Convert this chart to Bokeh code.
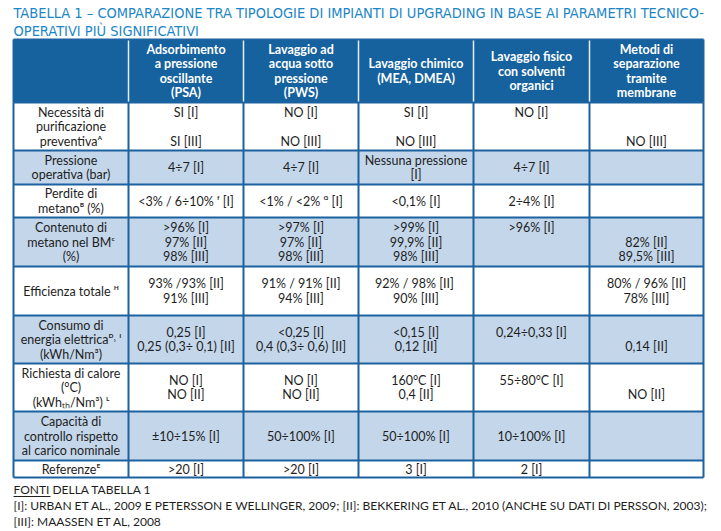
from bokeh.plotting import figure
from bokeh.models import Range1d
from bokeh.core.properties import value
from bokeh.embed import file_html
from bokeh.resources import INLINE

# ---------------- data ----------------
title_lines = [
    "TABELLA 1 – COMPARAZIONE TRA TIPOLOGIE DI IMPIANTI DI UPGRADING IN BASE AI PARAMETRI TECNICO-",
    "OPERATIVI PIÙ SIGNIFICATIVI",
]
headers = [
    "",
    "Adsorbimento\na pressione\noscillante\n(PSA)",
    "Lavaggio ad\nacqua sotto\npressione\n(PWS)",
    "Lavaggio chimico\n(MEA, DMEA)",
    "Lavaggio fisico\ncon solventi\norganici",
    "Metodi di\nseparazione\ntramite\nmembrane",
]
parametri = [
    "Necessità di\npurificazione\npreventivaᴬ",
    "Pressione\noperativa (bar)",
    "Perdite di\nmetanoᴮ (%)",
    "Contenuto di\nmetano nel BMᶜ\n(%)",
    "Efficienza totale ᴴ",
    "Consumo di\nenergia elettricaᴰ˒ ᴵ\n(kWh/Nm³)",
    "Richiesta di calore\n(°C)\n(kWhₜₕ/Nm³) ᴸ",
    "Capacità di\ncontrollo rispetto\nal carico nominale",
    "Referenzeᴱ",
]
psa = ["SI [I]\n\nSI [III]", "4÷7 [I]", "<3% / 6÷10% ᶠ [I]", ">96% [I]\n97% [II]\n98% [III]",
       "93% /93% [II]\n91% [III]", "0,25 [I]\n0,25 (0,3÷ 0,1) [II]", "NO [I]\nNO [II]",
       "±10÷15% [I]", ">20 [I]"]
pws = ["NO [I]\n\nNO [III]", "4÷7 [I]", "<1% / <2% ᴳ [I]", ">97% [I]\n97% [II]\n98% [III]",
       "91% / 91% [II]\n94% [III]", "<0,25 [I]\n0,4 (0,3÷ 0,6) [II]", "NO [I]\nNO [II]",
       "50÷100% [I]", ">20 [I]"]
mea = ["SI [I]\n\nNO [III]", "Nessuna pressione\n[I]", "<0,1% [I]", ">99% [I]\n99,9% [II]\n98% [III]",
       "92% / 98%  [II]\n90% [III]", "<0,15 [I]\n0,12 [II]", "160°C [I]\n0,4 [II]",
       "50÷100% [I]", "3 [I]"]
fisico = ["NO [I]\n\n", "4÷7 [I]", "2÷4% [I]", ">96% [I]\n\n", "", "0,24÷0,33 [I]\n",
          "55÷80°C [I]\n", "10÷100% [I]", "2 [I]"]
membrane = ["\n\nNO [III]", "", "", "\n82% [II]\n89,5% [III]", "80% / 96% [II]\n78% [III]",
            "\n0,14 [II]", "\nNO [II]", "", ""]
fonti_title = "FONTI DELLA TABELLA 1"
fonti_lines = [
    "[I]: URBAN ET AL., 2009 E PETERSSON E WELLINGER, 2009; [II]: BEKKERING ET AL., 2010 (ANCHE SU DATI DI PERSSON, 2003);",
    "[III]: MAASSEN ET AL, 2008",
]

# ---------------- layout ----------------
col_edges = [13, 128, 243, 358, 473, 589, 703]
row_edges = [39, 102, 150, 184, 217, 266, 315, 363, 411, 460, 477]
shaded_rows = [1, 3, 5, 7]
LH = 14.5

BLUE_LINE = "#1d62a0"
HEADER_BG = "#15629f"
SHADE = "#c3d6ea"
TITLE_C = "#1b86c8"
TXT = "#1e1e1e"
BODY_FONT = "Lato"
TITLE_FONT = "'Liberation Sans Narrow', 'DejaVu Sans Condensed', sans-serif"

p = figure(width=721, height=531, x_range=Range1d(0, 721), y_range=Range1d(531, 0),
           output_backend="svg", toolbar_location=None, min_border=0,
           x_axis_type=None, y_axis_type=None)
p.grid.visible = False
p.outline_line_color = None
p.background_fill_color = "white"

L, R = col_edges[0], col_edges[-1]

# header background
p.quad(left=[L], right=[R], top=[row_edges[0]], bottom=[row_edges[1]],
       fill_color=HEADER_BG, line_color=None)
# shaded rows
p.quad(left=[L] * len(shaded_rows), right=[R] * len(shaded_rows),
       top=[row_edges[i + 1] for i in shaded_rows], bottom=[row_edges[i + 2] for i in shaded_rows],
       fill_color=SHADE, line_color=None)

# horizontal grid lines
hy = row_edges[1:]
p.segment(x0=[L] * len(hy), x1=[R] * len(hy), y0=hy, y1=hy, line_color=BLUE_LINE, line_width=2)
# vertical body lines
p.segment(x0=col_edges, x1=col_edges, y0=[row_edges[1]] * len(col_edges),
          y1=[row_edges[-1]] * len(col_edges), line_color=BLUE_LINE, line_width=2)
# outer header lines
p.segment(x0=[L, R], x1=[L, R], y0=[row_edges[0]] * 2, y1=[row_edges[1]] * 2,
          line_color=BLUE_LINE, line_width=2)
p.segment(x0=[L], x1=[R], y0=[row_edges[0]], y1=[row_edges[0]], line_color=BLUE_LINE, line_width=2)
# header separators (white)
inner = col_edges[1:-1]
p.segment(x0=inner, x1=inner, y0=[row_edges[0] + 1] * len(inner), y1=[row_edges[1] - 1] * len(inner),
          line_color="#e8eef6", line_width=1.5)


def cell_lines(text, cx, y_top, y_bot):
    parts = text.split("\n")
    n = len(parts)
    cy = (y_top + y_bot) / 2
    out = []
    for i, s in enumerate(parts):
        if s.strip():
            out.append((cx, cy + (i - (n - 1) / 2) * LH, s))
    return out


# header texts
hx, hy_, ht = [], [], []
for j, h in enumerate(headers):
    cx = (col_edges[j] + col_edges[j + 1]) / 2
    for x, y, s in cell_lines(h, cx, row_edges[0], row_edges[1]):
        hx.append(x); hy_.append(y); ht.append(s)
p.text(x=hx, y=hy_, text=ht, text_align="center", text_baseline="middle",
       text_font=value(BODY_FONT), text_font_style="bold", text_font_size="12.5px",
       text_color="white")

# body texts
columns = [parametri, psa, pws, mea, fisico, membrane]
bx, by, bt = [], [], []
for j, col in enumerate(columns):
    cx = (col_edges[j] + col_edges[j + 1]) / 2
    for i, v in enumerate(col):
        for x, y, s in cell_lines(v, cx, row_edges[i + 1], row_edges[i + 2]):
            bx.append(x); by.append(y); bt.append(s)
p.text(x=bx, y=by, text=bt, text_align="center", text_baseline="middle",
       text_font=value(BODY_FONT), text_font_size="12.5px", text_color=TXT)

# title
p.text(x=[L, L], y=[12, 30], text=title_lines, text_align="left", text_baseline="middle",
       text_font=value(TITLE_FONT), text_font_size="14.5px", text_color=TITLE_C)

# sources
p.text(x=[L], y=[489], text=[fonti_title], text_align="left", text_baseline="middle",
       text_font=value(BODY_FONT), text_font_size="12px", text_color=TXT)
p.segment(x0=[L], x1=[50], y0=[496], y1=[496], line_color=TXT, line_width=1)
p.text(x=[L, L], y=[505, 521], text=fonti_lines, text_align="left", text_baseline="middle",
       text_font=value(BODY_FONT), text_font_size="12px", text_color=TXT)

open("out.html", "w").write(file_html(p, INLINE))
